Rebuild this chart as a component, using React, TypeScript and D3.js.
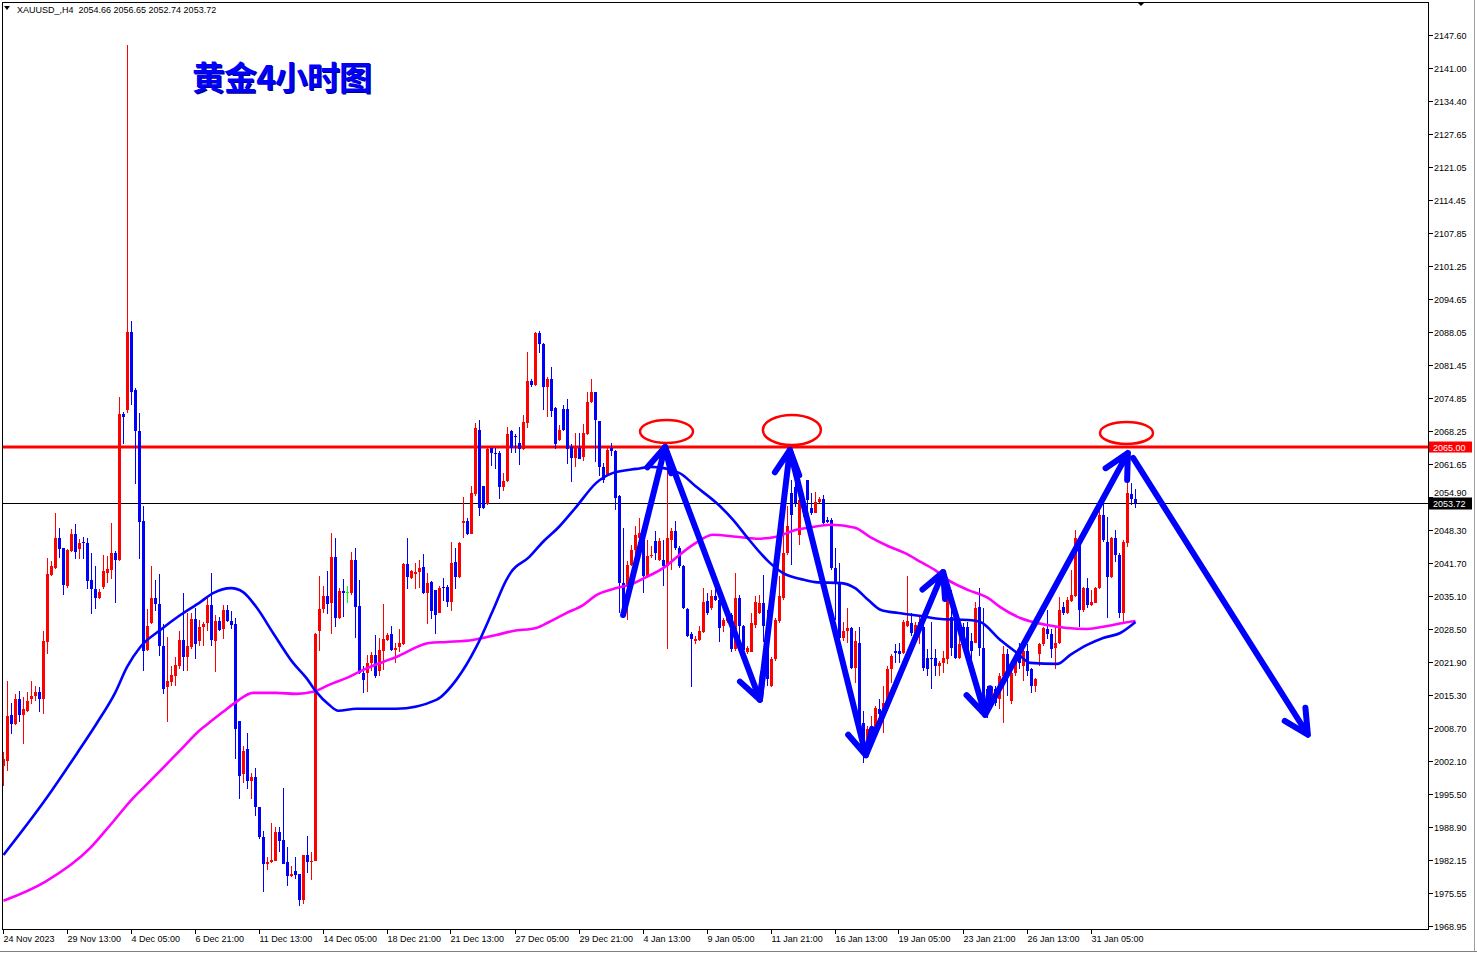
import React from "react";
import * as d3 from "d3";

// XAUUSD H4 candles, oldest first
const opens = [
  2001.1, 2002.1, 2011.3, 2009.5, 2014.5, 2011.3, 2012.1, 2014.5, 2015.0, 2015.8,
  2014.5, 2025.9, 2039.3, 2040.8, 2046.8, 2044.8, 2037.1, 2044.1, 2047.6, 2044.5,
  2046.0, 2045.7, 2038.3, 2036.5, 2034.7, 2037.0, 2039.8, 2040.3, 2043.7, 2042.3,
  2071.7, 2072.5, 2088.1, 2076.5, 2068.3, 2050.1, 2024.3, 2029.8, 2034.7, 2033.5,
  2025.1, 2016.8, 2017.8, 2019.1, 2021.1, 2026.3, 2022.8, 2024.9, 2030.5, 2026.0,
  2028.9, 2029.7, 2033.4, 2026.0, 2030.2, 2028.4, 2032.4, 2030.2, 2029.6, 2010.0,
  1999.4, 2004.4, 1998.0, 1998.8, 1992.9, 1986.7, 1981.4, 1981.8, 1982.0, 1987.8,
  1986.2, 1981.8, 1978.9, 1980.0, 1979.4, 1974.2, 1983.2, 1981.8, 1982.0, 2028.0,
  2032.5, 2035.2, 2033.7, 2043.0, 2030.7, 2036.2, 2036.0, 2035.7, 2042.4, 2033.2,
  2019.6, 2019.6, 2021.6, 2023.2, 2020.0, 2024.0, 2026.2, 2027.4, 2024.2, 2024.8,
  2025.5, 2041.5, 2038.8, 2039.6, 2040.0, 2041.0, 2035.8, 2037.9, 2036.3, 2031.8,
  2036.9, 2036.9, 2033.9, 2042.0, 2039.0, 2049.7, 2050.1, 2047.5, 2055.5, 2068.5,
  2057.1, 2053.5, 2064.8, 2063.8, 2063.8, 2057.0, 2058.1, 2068.3, 2067.1, 2065.8,
  2064.5, 2069.9, 2078.3, 2077.5, 2087.9, 2085.7, 2077.0, 2078.6, 2072.8, 2066.3,
  2072.6, 2072.6, 2065.0, 2062.8, 2064.8, 2063.0, 2067.5, 2074.0, 2076.0, 2070.3,
  2061.0, 2059.4, 2064.8, 2064.1, 2055.1, 2037.8, 2037.1, 2041.4, 2044.4, 2046.8,
  2047.4, 2039.1, 2043.1, 2046.1, 2042.4, 2042.4, 2041.1, 2046.4, 2048.1, 2044.8,
  2041.1, 2032.6, 2027.4, 2026.1, 2026.3, 2027.8, 2034.1, 2032.8, 2035.1, 2034.4,
  2029.1, 2030.1, 2031.4, 2024.4, 2034.8, 2029.1, 2023.8, 2023.9, 2029.4, 2031.8,
  2033.8, 2029.8, 2017.1, 2022.4, 2030.1, 2034.8, 2043.8, 2055.7, 2057.0, 2047.4,
  2052.0, 2058.4, 2052.7, 2051.8, 2054.0, 2054.5, 2050.4, 2050.4, 2040.7, 2037.7,
  2026.7, 2028.0, 2028.7, 2020.7, 2025.7, 2009.7, 2004.4, 2007.0, 2008.4, 2012.5,
  2011.7, 2013.7, 2020.4, 2024.0, 2024.0, 2023.7, 2029.2, 2029.7, 2027.7, 2029.0,
  2029.0, 2022.7, 2022.7, 2022.7, 2021.0, 2021.6, 2022.5, 2031.0, 2030.7, 2022.7,
  2029.0, 2029.0, 2026.0, 2025.7, 2033.0, 2024.7, 2016.4, 2014.4, 2016.4, 2014.4,
  2019.0, 2023.4, 2014.0, 2019.7, 2023.0, 2021.0, 2024.0, 2020.4, 2017.0, 2023.4,
  2025.4, 2028.5, 2027.4, 2024.7, 2025.7, 2033.0, 2031.7, 2034.2, 2035.2, 2046.7,
  2032.4, 2036.7, 2033.4, 2033.8, 2036.7, 2051.4, 2046.0, 2039.0, 2046.7, 2043.4,
  2031.7, 2045.8, 2055.6, 2054.66,
];
const highs = [
  2003.8, 2018.1, 2013.7, 2015.5, 2016.1, 2014.8, 2015.8, 2018.1, 2017.1, 2016.8,
  2028.1, 2042.8, 2042.1, 2051.8, 2048.8, 2044.8, 2044.5, 2048.5, 2049.5, 2046.5,
  2047.0, 2046.8, 2043.7, 2041.1, 2036.5, 2043.3, 2043.1, 2049.7, 2044.1, 2075.1,
  2072.1, 2145.6, 2090.3, 2076.8, 2071.8, 2053.1, 2032.5, 2041.1, 2038.3, 2039.5,
  2029.5, 2026.8, 2021.1, 2022.8, 2028.1, 2035.8, 2031.8, 2031.8, 2032.8, 2030.4,
  2030.0, 2034.7, 2039.7, 2031.4, 2031.0, 2033.4, 2033.4, 2032.2, 2030.7, 2010.0,
  2005.0, 2007.7, 1999.7, 2000.7, 1992.9, 1988.0, 1982.7, 1989.6, 1988.7, 1988.7,
  1996.7, 1984.7, 1981.0, 1982.7, 1979.4, 1983.2, 1986.9, 1983.7, 2027.7, 2039.2,
  2037.2, 2040.2, 2047.7, 2046.7, 2036.7, 2038.5, 2037.2, 2044.0, 2044.7, 2038.4,
  2021.0, 2023.2, 2023.8, 2027.2, 2026.7, 2033.6, 2027.6, 2029.2, 2025.7, 2028.5,
  2041.8, 2046.8, 2040.3, 2041.8, 2042.3, 2043.5, 2039.7, 2038.1, 2036.3, 2037.1,
  2038.8, 2037.3, 2045.9, 2044.8, 2045.9, 2055.0, 2050.8, 2057.1, 2069.8, 2070.5,
  2057.1, 2064.8, 2064.8, 2064.8, 2064.1, 2059.8, 2069.0, 2068.5, 2067.5, 2069.1,
  2071.5, 2084.1, 2078.6, 2088.1, 2088.3, 2085.8, 2079.0, 2081.0, 2073.0, 2069.5,
  2073.5, 2074.6, 2065.5, 2067.8, 2067.7, 2069.7, 2076.1, 2078.6, 2076.1, 2070.3,
  2061.8, 2064.8, 2065.8, 2064.4, 2055.4, 2048.8, 2042.1, 2045.4, 2049.1, 2050.8,
  2048.8, 2046.4, 2045.1, 2048.1, 2046.8, 2046.4, 2060.4, 2048.8, 2050.1, 2045.1,
  2041.4, 2032.8, 2027.8, 2027.1, 2029.1, 2036.8, 2035.8, 2036.4, 2038.1, 2035.8,
  2030.8, 2032.4, 2031.8, 2039.8, 2035.4, 2029.4, 2025.1, 2031.8, 2035.1, 2035.4,
  2039.4, 2032.4, 2022.8, 2030.8, 2039.1, 2050.8, 2053.1, 2058.4, 2058.4, 2055.0,
  2054.0, 2058.4, 2055.7, 2056.0, 2055.0, 2055.4, 2051.0, 2050.7, 2044.7, 2041.7,
  2030.0, 2032.7, 2029.0, 2028.0, 2029.0, 2012.0, 2009.0, 2011.0, 2013.0, 2014.4,
  2017.0, 2021.0, 2023.4, 2025.4, 2025.7, 2030.4, 2039.2, 2031.7, 2030.0, 2031.0,
  2029.7, 2024.4, 2030.0, 2024.4, 2022.0, 2024.0, 2036.7, 2036.4, 2031.4, 2027.4,
  2029.7, 2030.0, 2027.7, 2034.0, 2036.7, 2032.7, 2017.0, 2017.0, 2017.0, 2019.7,
  2025.0, 2024.4, 2020.4, 2023.7, 2025.7, 2024.4, 2025.4, 2020.7, 2018.7, 2025.7,
  2029.0, 2032.4, 2028.4, 2029.0, 2035.0, 2034.0, 2035.0, 2040.4, 2048.4, 2047.0,
  2037.0, 2038.7, 2036.4, 2037.0, 2054.0, 2053.7, 2051.0, 2047.0, 2048.4, 2043.7,
  2046.4, 2058.4, 2057.8, 2056.65,
];
const lows = [
  1997.1, 2000.1, 2007.5, 2009.3, 2009.8, 2005.5, 2011.8, 2013.5, 2014.1, 2011.8,
  2011.5, 2023.5, 2039.1, 2040.5, 2042.8, 2035.3, 2036.8, 2043.9, 2042.5, 2042.5,
  2042.6, 2036.5, 2031.5, 2032.5, 2034.5, 2036.5, 2037.8, 2038.5, 2033.8, 2042.1,
  2065.5, 2071.8, 2073.5, 2057.5, 2042.5, 2020.1, 2024.1, 2029.5, 2032.1, 2023.1,
  2015.5, 2009.8, 2017.1, 2017.1, 2020.5, 2020.1, 2020.1, 2024.5, 2022.5, 2025.0,
  2025.0, 2028.0, 2025.0, 2019.8, 2028.0, 2026.4, 2030.0, 2028.4, 2002.5, 1994.5,
  1997.7, 1996.4, 1994.5, 1991.0, 1986.4, 1975.8, 1980.2, 1981.6, 1982.0, 1983.7,
  1981.4, 1977.0, 1978.7, 1978.4, 1972.9, 1973.4, 1979.6, 1978.2, 1982.0, 2024.0,
  2031.7, 2031.6, 2027.4, 2028.9, 2030.5, 2030.9, 2033.8, 2035.4, 2026.7, 2019.4,
  2015.6, 2015.8, 2020.0, 2018.7, 2019.0, 2020.2, 2026.0, 2024.0, 2021.6, 2023.8,
  2025.3, 2036.6, 2038.5, 2036.6, 2036.8, 2035.5, 2029.5, 2030.5, 2027.5, 2031.7,
  2034.1, 2033.0, 2032.1, 2036.6, 2038.8, 2046.8, 2047.3, 2047.5, 2055.1, 2051.1,
  2052.6, 2053.3, 2061.1, 2060.6, 2054.5, 2056.1, 2057.9, 2063.8, 2063.8, 2061.3,
  2064.3, 2068.8, 2077.1, 2077.3, 2083.9, 2072.5, 2071.1, 2071.1, 2064.5, 2066.1,
  2068.1, 2061.5, 2057.9, 2061.0, 2062.5, 2062.1, 2067.3, 2073.8, 2062.0, 2059.1,
  2057.8, 2059.1, 2063.1, 2052.4, 2031.8, 2031.1, 2030.4, 2041.1, 2043.1, 2045.1,
  2035.8, 2038.8, 2042.8, 2042.4, 2042.1, 2037.1, 2024.4, 2040.3, 2044.4, 2040.8,
  2032.6, 2026.8, 2016.8, 2025.4, 2026.1, 2027.6, 2031.4, 2032.4, 2034.1, 2025.8,
  2027.8, 2029.8, 2023.8, 2024.1, 2025.8, 2023.8, 2023.4, 2023.8, 2028.8, 2031.6,
  2025.8, 2017.1, 2016.8, 2022.1, 2029.8, 2034.4, 2043.4, 2041.4, 2053.0, 2045.4,
  2051.0, 2050.4, 2051.4, 2051.7, 2053.7, 2049.4, 2049.7, 2040.4, 2030.4, 2026.4,
  2026.0, 2025.7, 2020.4, 2017.7, 2009.0, 2001.7, 2003.7, 2007.0, 2007.7, 2009.7,
  2007.7, 2013.4, 2017.7, 2021.7, 2021.7, 2023.4, 2029.0, 2027.0, 2027.0, 2025.4,
  2020.0, 2019.0, 2016.4, 2019.0, 2019.0, 2019.6, 2021.4, 2023.0, 2022.4, 2022.4,
  2025.0, 2023.7, 2022.4, 2025.7, 2023.0, 2011.0, 2010.7, 2012.4, 2013.0, 2012.4,
  2009.7, 2015.0, 2013.4, 2019.0, 2020.4, 2018.0, 2019.0, 2015.7, 2015.8, 2021.0,
  2025.0, 2026.4, 2022.7, 2020.4, 2025.4, 2031.4, 2031.6, 2034.0, 2035.0, 2029.0,
  2032.0, 2032.7, 2033.2, 2033.7, 2036.5, 2046.0, 2030.7, 2038.7, 2042.0, 2030.7,
  2029.7, 2045.0, 2053.4, 2052.74,
];
const closes = [
  2002.5, 2011.1, 2009.5, 2014.5, 2011.3, 2012.5, 2014.1, 2015.1, 2015.8, 2014.5,
  2026.1, 2039.5, 2041.1, 2046.8, 2044.5, 2037.3, 2044.3, 2047.6, 2043.9, 2045.8,
  2045.7, 2038.1, 2036.5, 2034.8, 2036.0, 2040.1, 2040.5, 2043.7, 2042.3, 2071.7,
  2071.1, 2088.1, 2076.1, 2068.1, 2049.9, 2024.1, 2029.1, 2034.7, 2033.5, 2025.1,
  2016.5, 2018.1, 2019.3, 2021.3, 2026.3, 2022.8, 2025.1, 2030.5, 2025.5, 2029.0,
  2029.6, 2033.4, 2026.2, 2030.2, 2028.2, 2032.4, 2030.2, 2029.4, 2008.5, 1999.0,
  2004.0, 1998.0, 1998.8, 1992.9, 1986.7, 1981.4, 1981.8, 1982.2, 1987.8, 1986.0,
  1981.4, 1978.9, 1979.4, 1979.2, 1974.2, 1983.2, 1981.8, 1982.0, 2027.4, 2032.5,
  2035.2, 2033.6, 2043.0, 2030.7, 2036.2, 2035.8, 2036.0, 2042.4, 2033.0, 2019.6,
  2018.2, 2021.6, 2023.2, 2019.0, 2024.2, 2026.4, 2027.2, 2024.2, 2024.7, 2025.7,
  2041.5, 2039.0, 2040.1, 2039.9, 2040.8, 2035.7, 2037.8, 2032.1, 2031.3, 2036.8,
  2036.7, 2033.9, 2041.8, 2039.0, 2045.7, 2050.1, 2047.5, 2055.7, 2068.8, 2052.8,
  2052.8, 2064.5, 2063.8, 2063.5, 2057.0, 2058.1, 2067.6, 2064.8, 2067.0, 2064.5,
  2070.1, 2078.3, 2077.5, 2087.9, 2085.7, 2077.0, 2078.6, 2072.3, 2065.5, 2068.5,
  2068.5, 2064.6, 2062.8, 2064.8, 2062.6, 2067.7, 2074.1, 2076.0, 2070.4, 2061.0,
  2058.4, 2064.4, 2064.1, 2054.8, 2037.8, 2031.8, 2041.4, 2044.4, 2047.4, 2047.8,
  2039.1, 2043.1, 2043.4, 2043.8, 2046.1, 2041.1, 2046.8, 2048.1, 2044.8, 2041.1,
  2032.8, 2027.1, 2026.4, 2026.4, 2028.1, 2033.9, 2031.8, 2035.1, 2034.4, 2028.8,
  2030.4, 2031.4, 2024.4, 2034.8, 2029.1, 2024.3, 2024.6, 2029.8, 2033.9, 2033.8,
  2029.1, 2018.4, 2022.4, 2030.4, 2035.1, 2043.8, 2049.1, 2051.4, 2053.7, 2054.4,
  2053.0, 2054.4, 2051.7, 2054.0, 2054.5, 2049.7, 2050.0, 2040.7, 2037.7, 2026.7,
  2028.0, 2028.7, 2020.7, 2026.0, 2009.7, 2005.7, 2008.4, 2008.4, 2012.7, 2011.4,
  2013.7, 2020.4, 2023.0, 2023.7, 2023.4, 2030.0, 2030.2, 2027.7, 2029.4, 2030.0,
  2020.7, 2020.4, 2022.4, 2021.0, 2021.7, 2022.7, 2035.0, 2024.7, 2022.7, 2025.4,
  2025.4, 2024.0, 2024.0, 2032.7, 2024.7, 2013.7, 2012.4, 2016.4, 2013.7, 2019.0,
  2023.4, 2019.0, 2019.7, 2023.0, 2021.7, 2024.0, 2020.0, 2017.0, 2018.4, 2025.4,
  2028.7, 2027.4, 2024.4, 2025.7, 2032.4, 2031.7, 2034.4, 2035.4, 2046.7, 2032.4,
  2036.7, 2033.4, 2034.0, 2036.7, 2051.4, 2046.4, 2039.0, 2046.7, 2043.4, 2031.7,
  2046.0, 2055.7, 2054.5, 2053.72,
];

// moving averages: [bar index, price]
const maFast: [number, number][] = [
  [0, 1983.2], [10.4, 1994.2], [18.4, 2003.6], [23.4, 2009.7], [27.9, 2015.7], [30.9, 2020.9],
  [34.2, 2024.9], [39.2, 2028.3], [44.2, 2031.3], [49.2, 2033.9], [52.4, 2035.7], [56.9, 2036.7],
  [59.9, 2035.9], [63.2, 2032.9], [67.4, 2027.7], [72.4, 2021.7], [75.7, 2018.7], [78.2, 2015.9],
  [81.4, 2013.3], [83.7, 2012.1], [88.2, 2012.5], [98.2, 2012.5], [108.2, 2014.3], [113.2, 2018.3],
  [118.2, 2024.9], [122.4, 2032.3], [125.7, 2038.3], [126.9, 2039.9], [131.4, 2042.9], [134.9, 2046.0],
  [138.9, 2049.0], [143.2, 2053.0], [148.2, 2057.8], [152.4, 2059.8], [158.2, 2060.6], [161.9, 2061.0],
  [168.9, 2059.8], [173.2, 2057.0], [178.2, 2053.8], [182.4, 2050.4], [186.4, 2046.4], [191.4, 2041.9],
  [194.9, 2039.7], [199.4, 2038.5], [202.9, 2037.9], [209.4, 2037.7], [212.9, 2036.7], [216.2, 2034.3],
  [219.4, 2032.3], [223.7, 2031.7], [229.4, 2031.1], [234.4, 2030.5], [241.2, 2030.3], [244.2, 2029.9],
  [249.2, 2026.3], [253.4, 2023.7], [256.7, 2021.7], [263.4, 2021.5], [266.7, 2023.3], [270.9, 2025.3],
  [274.9, 2026.7], [279.2, 2027.7], [283, 2029.9],
];
const maSlow: [number, number][] = [
  [0, 1974.0], [10.4, 1977.8], [21.7, 1984.6], [26.7, 1989.2], [32.4, 1994.6], [34.9, 1996.6],
  [44.2, 2004.2], [49.2, 2008.3], [51.4, 2009.7], [54.9, 2011.9], [58.2, 2013.9], [62.4, 2015.7],
  [68.2, 2015.7], [73.2, 2015.5], [77.4, 2015.9], [81.4, 2017.3], [86.4, 2018.9], [89.9, 2020.3],
  [94.9, 2021.9], [98.2, 2022.9], [106.4, 2025.7], [110.7, 2025.9], [117.4, 2026.3], [123.2, 2027.3],
  [127.4, 2028.1], [133.2, 2028.7], [136.4, 2029.9], [140.7, 2031.7], [144.9, 2033.3], [148.2, 2035.3],
  [153.2, 2036.7], [156.4, 2037.3], [160.7, 2038.9], [164.9, 2040.7], [168.9, 2043.3], [173.2, 2045.8],
  [177.4, 2047.4], [183.2, 2047.0], [188.2, 2046.6], [193.2, 2047.0], [198.2, 2048.4], [201.2, 2048.8],
  [206.9, 2049.4], [212.9, 2048.8], [216.9, 2046.8], [221.2, 2045.1], [225.4, 2043.7], [229.4, 2041.9],
  [232.9, 2040.3], [236.2, 2038.3], [241.2, 2036.3], [246.2, 2034.7], [249.2, 2032.9], [254.2, 2030.7],
  [260.9, 2029.3], [265.9, 2028.7], [270.9, 2028.5], [275.9, 2029.1], [279.9, 2029.7], [283, 2030.1],
];

const priceTicks = [
  "2147.60", "2141.00", "2134.40", "2127.65", "2121.05", "2114.45", "2107.85", "2101.25",
  "2094.65", "2088.05", "2081.45", "2074.85", "2068.25", "2061.65", "2054.90", "2048.30",
  "2041.70", "2035.10", "2028.50", "2021.90", "2015.30", "2008.70", "2002.10", "1995.50",
  "1988.90", "1982.15", "1975.55", "1968.95",
];
const dateLabels = [
  "24 Nov 2023", "29 Nov 13:00", "4 Dec 05:00", "6 Dec 21:00", "11 Dec 13:00", "14 Dec 05:00",
  "18 Dec 21:00", "21 Dec 13:00", "27 Dec 05:00", "29 Dec 21:00", "4 Jan 13:00", "9 Jan 05:00",
  "11 Jan 21:00", "16 Jan 13:00", "19 Jan 05:00", "23 Jan 21:00", "26 Jan 13:00", "31 Jan 05:00",
];
const barsPerLabel = 16;

const resistance = 2065.0;
const symbol = "XAUUSD_,H4";
const title = "黄金4小时图";

// hand drawn annotations, in [bar, price]
const zigzag: [number, number][] = [
  [154.9, 2031.3], [165.4, 2065.0], [189.1, 2014.3], [196.6, 2064.4],
  [215.6, 2003.2], [234.9, 2039.9], [245.4, 2011.3], [281.1, 2063.8],
];
const forecast: [number, number][] = [[282.4, 2062.8], [326.1, 2007.3]];
const tops: [number, number][] = [[165.75, 2068.1], [197.1, 2068.4], [280.75, 2067.8]];
const topRx = [26.5, 29, 26.5];
const topRy = [11.5, 15, 11];

const W = 1477;
const H = 954;
const frame = { left: 2.5, top: 2.5, right: 1428.5, bottom: 929.5 };
const UP = "#ff0000";
const DOWN = "#0000ff";
const DOJI = "#00ff00";

const fmt = d3.format(".2f");

export default function App() {
  const n = closes.length;
  const x = d3.scaleLinear().domain([0, n - 1]).range([3.5, 3.5 + 4 * (n - 1)]);
  const y = d3.scaleLinear().domain([1968.95, 2147.6]).range([926, 35]);

  const maLine = d3
    .line<[number, number]>()
    .x((d) => x(d[0]))
    .y((d) => y(d[1]))
    .curve(d3.curveMonotoneX);

  const arrow = (a: [number, number], b: [number, number]) => {
    const x0 = x(a[0]), y0 = y(a[1]);
    const x1 = x(b[0]), y1 = y(b[1]);
    const ang = Math.atan2(y1 - y0, x1 - x0);
    const len = 27;
    const sp = (27 * Math.PI) / 180;
    const l = [x1 - len * Math.cos(ang - sp), y1 - len * Math.sin(ang - sp)];
    const r = [x1 - len * Math.cos(ang + sp), y1 - len * Math.sin(ang + sp)];
    return `M${x0},${y0}L${x1},${y1}M${l[0]},${l[1]}L${x1},${y1}L${r[0]},${r[1]}`;
  };

  const last = n - 1;
  const bid = closes[last];
  const yRes = Math.round(y(resistance));
  const yBid = Math.round(y(bid)) + 0.5;

  return (
    <svg
      width={W}
      height={H}
      style={{ position: "absolute", left: 0, top: 0, background: "#fff" }}
      fontFamily="'Liberation Sans', Arial, sans-serif"
    >
      <defs>
        <clipPath id="plot">
          <rect x={frame.left} y={frame.top} width={frame.right - frame.left} height={frame.bottom - frame.top} />
        </clipPath>
      </defs>
      <rect width={W} height={H} fill="#fff" />

      <g clipPath="url(#plot)">
        {/* price levels */}
        <line x1={frame.left} x2={frame.right} y1={yBid} y2={yBid} stroke="#000" strokeWidth={1} />
        <line x1={frame.left} x2={frame.right} y1={yRes} y2={yRes} stroke="#ff0000" strokeWidth={3} />

        {/* candles */}
        <g shapeRendering="crispEdges">
          {closes.map((c, i) => {
            const o = opens[i];
            const col = c > o ? UP : c < o ? DOWN : DOJI;
            const cx = x(i);
            const top = y(Math.max(o, c));
            const bh = Math.max(1, Math.abs(y(o) - y(c)));
            return (
              <g key={i}>
                <line x1={cx} x2={cx} y1={y(highs[i])} y2={y(lows[i])} stroke={col} strokeWidth={1} />
                <rect x={cx - 1.5} y={top} width={3} height={bh} fill={col} />
              </g>
            );
          })}
        </g>

        {/* moving averages */}
        <path d={maLine(maSlow) || ""} fill="none" stroke="#ff00ff" strokeWidth={2.6} />
        <path d={maLine(maFast) || ""} fill="none" stroke="#0000ff" strokeWidth={2.6} />

        {/* annotations */}
        {tops.map((t, i) => (
          <ellipse key={i} cx={x(t[0])} cy={y(t[1])} rx={topRx[i]} ry={topRy[i]} fill="none" stroke="#ff0000" strokeWidth={2.5} />
        ))}
        <g fill="none" stroke="#0000ff" strokeWidth={6} strokeLinecap="round" strokeLinejoin="round">
          {zigzag.slice(1).map((p, i) => (
            <path key={i} d={arrow(zigzag[i], p)} />
          ))}
          <path d={arrow(forecast[0], forecast[1])} />
        </g>

        {/* title */}
        <text x={193} y={91} fontFamily="'Noto Sans CJK SC', sans-serif" fontWeight="bold" fontSize={33} textLength={180} lengthAdjust="spacing" fill="#000080">
          {title}
        </text>
        <text x={192} y={90} fontFamily="'Noto Sans CJK SC', sans-serif" fontWeight="bold" fontSize={33} textLength={180} lengthAdjust="spacing" fill="#0000ff">
          {title}
        </text>

        {/* header */}
        <path d="M4,6L10,6L7,10Z" fill="#000" />
        <text x={17} y={13} fontSize={9} fill="#000" style={{ whiteSpace: "pre" }}>
          {`${symbol}  ${fmt(opens[last])} ${fmt(highs[last])} ${fmt(lows[last])} ${fmt(closes[last])}`}
        </text>
      </g>

      {/* chart shift marker */}
      <path d={`M${x(last) + 1.5},2L${x(last) + 9.5},2L${x(last) + 5.5},6Z`} fill="#000" />

      {/* frame */}
      <rect
        x={frame.left}
        y={frame.top}
        width={frame.right - frame.left}
        height={frame.bottom - frame.top}
        fill="none"
        stroke="#000"
        strokeWidth={1}
        shapeRendering="crispEdges"
      />

      {/* price axis */}
      <g fontSize={9} fill="#000">
        {priceTicks.map((t) => {
          const ty = Math.round(y(+t)) + 0.5;
          // the tick label that sits under the bid box is lifted clear of it
          const ly = Math.abs(ty - yBid) < 11 ? Math.min(ty + 3.5, yBid - 7.5) : ty + 3.5;
          return (
            <g key={t}>
              <line x1={frame.right} x2={frame.right + 4} y1={ty} y2={ty} stroke="#000" shapeRendering="crispEdges" />
              <text x={1434} y={ly}>{t}</text>
            </g>
          );
        })}
        <rect x={1429} y={yRes - 5.5} width={43} height={11} fill="#ff0000" />
        <text x={1433} y={yRes + 3.5} fill="#fff">{fmt(resistance)}</text>
        <rect x={1429} y={yBid - 6} width={43} height={12} fill="#000" />
        <text x={1433} y={yBid + 3.5} fill="#fff">{fmt(bid)}</text>
      </g>

      {/* time axis */}
      <g fontSize={9} fill="#000">
        {dateLabels.map((d, i) => {
          const tx = Math.round(x(i * barsPerLabel)) - 0.5;
          return (
            <g key={d}>
              <line x1={tx} x2={tx} y1={frame.bottom} y2={frame.bottom + 4} stroke="#000" shapeRendering="crispEdges" />
              <text x={tx} y={942}>{d}</text>
            </g>
          );
        })}
      </g>

      {/* window edges */}
      <line x1={1474.5} x2={1474.5} y1={0} y2={952} stroke="#a0a0a0" />
      <line x1={0} x2={1477} y1={951.5} y2={951.5} stroke="#808080" />
    </svg>
  );
}
